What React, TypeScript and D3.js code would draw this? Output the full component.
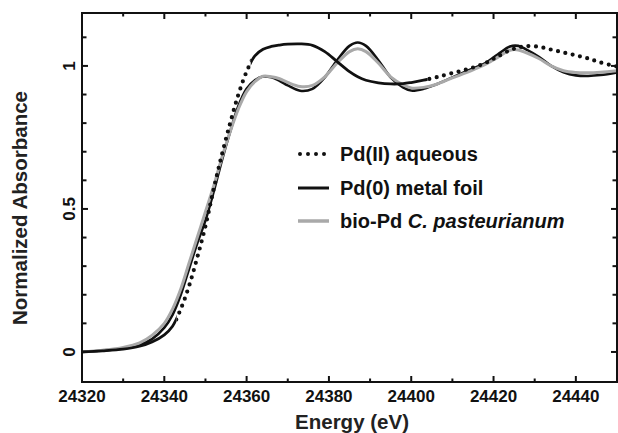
import React from "react";
import * as d3 from "d3";

// energy grid (eV) shared by the three spectra
const energy = [
  24320, 24325, 24330, 24334, 24337, 24340, 24342, 24344, 24346, 24348,
  24350, 24352, 24354, 24356, 24358, 24360, 24362, 24364, 24366, 24368,
  24370, 24373, 24376, 24379, 24382, 24385, 24387, 24389, 24392, 24395,
  24398, 24400, 24403, 24406, 24410, 24414, 24418, 24421, 24424, 24426,
  24428, 24431, 24434, 24437, 24440, 24443, 24446, 24450,
];

// Pd(II) aqueous
const pdAqueous = [
  0.0, 0.004, 0.01, 0.02, 0.035, 0.06, 0.09, 0.15, 0.23, 0.33,
  0.44, 0.57, 0.69, 0.8, 0.9, 0.98, 1.035, 1.058, 1.068, 1.073,
  1.076, 1.077, 1.072, 1.05, 1.015, 0.98, 0.962, 0.95, 0.941, 0.937,
  0.938, 0.942, 0.95, 0.96, 0.975, 0.99, 1.01, 1.033, 1.055, 1.064,
  1.069, 1.067, 1.057, 1.047, 1.037, 1.026, 1.012, 0.998,
];

// Pd(0) metal foil
const pdFoil = [
  0.0, 0.005, 0.012, 0.025, 0.045, 0.085, 0.13, 0.2, 0.29, 0.38,
  0.46, 0.56, 0.67, 0.77, 0.86, 0.92, 0.95, 0.963, 0.96, 0.948,
  0.932, 0.913, 0.92, 0.96, 1.02, 1.07, 1.082, 1.07, 1.02, 0.96,
  0.925, 0.914, 0.92, 0.935, 0.96, 0.985, 1.01, 1.04, 1.068, 1.07,
  1.057, 1.032, 1.0, 0.978, 0.967, 0.965, 0.968, 0.977,
];

// bio-Pd C. pasteurianum
const bioPd = [
  0.0, 0.006, 0.016, 0.032, 0.058, 0.1, 0.15, 0.22, 0.31, 0.4,
  0.49, 0.58, 0.68, 0.77, 0.85, 0.91, 0.945, 0.964, 0.962, 0.955,
  0.942, 0.928, 0.932, 0.962, 1.01, 1.05, 1.06, 1.05, 1.01, 0.962,
  0.934, 0.923, 0.925, 0.935, 0.958, 0.98, 1.005, 1.03, 1.055, 1.056,
  1.046, 1.026, 1.0, 0.983, 0.977, 0.976, 0.978, 0.983,
];

const xTicks = d3.range(24320, 24451, 10);
const xLabels = [24320, 24340, 24360, 24380, 24400, 24420, 24440];
const yTicks = d3.range(0, 1.11, 0.1).map((v) => +v.toFixed(1));
const yLabels = [0, 0.5, 1];

// regions where the Pd(II) trace is sampled densely and looks solid
const denseRanges = [
  [24320, 24343],
  [24361, 24404],
];

const W = 618;
const H = 433;
const font = "'Liberation Sans', Arial, Helvetica, sans-serif";

export default function App() {
  const x = d3.scaleLinear().domain([24320, 24450]).range([82, 617]);
  const y = d3.scaleLinear().domain([-0.105, 1.185]).range([382, 13]);

  const line = (vals: number[]) =>
    d3
      .line<number>()
      .x((_, i) => x(energy[i]))
      .y((d) => y(d))
      .curve(d3.curveCatmullRom.alpha(0.5))(vals) || "";

  const [x0, x1] = x.range();
  const [yB, yT] = y.range();

  // complement of the dense ranges for the dotted parts
  const sparse: number[][] = [];
  let start = 24320;
  denseRanges.forEach(([a, b]) => {
    if (a > start) sparse.push([start, a]);
    start = b;
  });
  if (start < 24450) sparse.push([start, 24450]);

  return (
    <svg
      width={W}
      height={H}
      style={{ position: "absolute", left: 0, top: 0, background: "#fff" }}
      fontFamily={font}
    >
      <defs>
        <clipPath id="dense">
          {denseRanges.map(([a, b], i) => (
            <rect key={i} x={x(a)} y={0} width={x(b) - x(a)} height={H} />
          ))}
        </clipPath>
        <clipPath id="sparse">
          {sparse.map(([a, b], i) => (
            <rect key={i} x={x(a)} y={0} width={x(b) - x(a)} height={H} />
          ))}
        </clipPath>
      </defs>

      {/* curves */}
      <path d={line(pdFoil)} fill="none" stroke="#111" strokeWidth={2.6} />
      <path d={line(bioPd)} fill="none" stroke="#a9a9a9" strokeWidth={3} />
      <path
        d={line(pdAqueous)}
        fill="none"
        stroke="#111"
        strokeWidth={2.8}
        clipPath="url(#dense)"
      />
      <path
        d={line(pdAqueous)}
        fill="none"
        stroke="#111"
        strokeWidth={4.2}
        strokeDasharray="0 7.5"
        strokeLinecap="round"
        clipPath="url(#sparse)"
      />

      {/* frame */}
      <rect
        x={x0}
        y={yT}
        width={x1 - x0}
        height={yB - yT}
        fill="none"
        stroke="#111"
        strokeWidth={2}
      />

      {/* x ticks, bottom and top */}
      {xTicks.map((t) => {
        const len = xLabels.includes(t) ? 6 : 3.5;
        return (
          <g key={t}>
            <line x1={x(t)} x2={x(t)} y1={yB} y2={yB - len} stroke="#111" strokeWidth={2} />
            <line x1={x(t)} x2={x(t)} y1={yT} y2={yT + len} stroke="#111" strokeWidth={2} />
          </g>
        );
      })}
      {xLabels.map((t) => (
        <text
          key={t}
          x={x(t)}
          y={402}
          textAnchor="middle"
          fontSize={17}
          fontWeight="bold"
          fill="#111"
        >
          {t}
        </text>
      ))}

      {/* y ticks, left and right */}
      {yTicks.map((t) => {
        const len = yLabels.includes(t) ? 6 : 4.5;
        return (
          <g key={t}>
            <line x1={x0} x2={x0 + len} y1={y(t)} y2={y(t)} stroke="#111" strokeWidth={2} />
            <line x1={x1} x2={x1 - len} y1={y(t)} y2={y(t)} stroke="#111" strokeWidth={2} />
          </g>
        );
      })}
      {yLabels.map((t) => (
        <text
          key={t}
          transform={`translate(75,${y(t)}) rotate(-90)`}
          textAnchor="middle"
          fontSize={17}
          fontWeight="bold"
          fill="#111"
        >
          {t}
        </text>
      ))}

      {/* axis titles */}
      <text x={352} y={429} textAnchor="middle" fontSize={20.5} fontWeight="bold" fill="#222">
        Energy (eV)
      </text>
      <text
        transform="translate(27,208) rotate(-90)"
        textAnchor="middle"
        fontSize={20.5}
        fontWeight="bold"
        fill="#222"
      >
        Normalized Absorbance
      </text>

      {/* legend */}
      <g fontSize={20} fontWeight="bold" fill="#111">
        <line
          x1={300}
          x2={328}
          y1={154}
          y2={154}
          stroke="#111"
          strokeWidth={4}
          strokeDasharray="0 8"
          strokeLinecap="round"
        />
        <text x={340} y={161}>Pd(II) aqueous</text>
        <line x1={298} x2={329} y1={188} y2={188} stroke="#111" strokeWidth={3} />
        <text x={340} y={195}>Pd(0) metal foil</text>
        <line x1={298} x2={329} y1={221} y2={221} stroke="#a9a9a9" strokeWidth={3.5} />
        <text x={340} y={228}>
          bio-Pd <tspan fontStyle="italic">C. pasteurianum</tspan>
        </text>
      </g>
    </svg>
  );
}
